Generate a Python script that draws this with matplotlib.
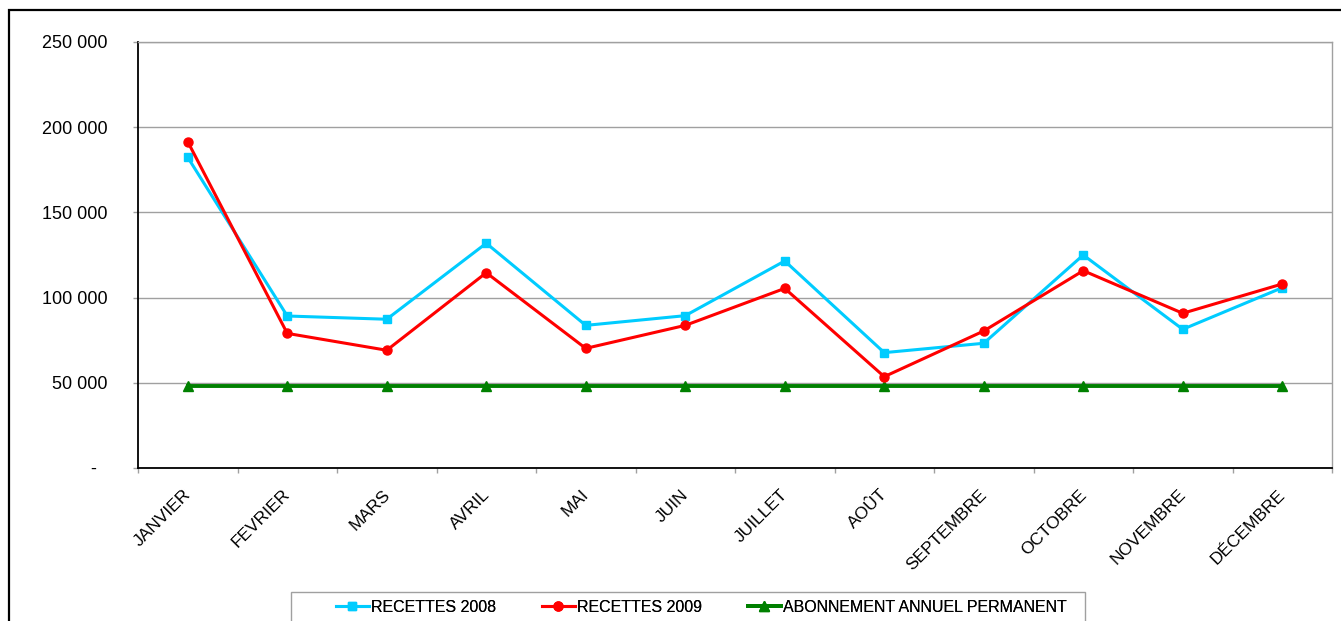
import matplotlib
matplotlib.use("Agg")
import matplotlib.pyplot as plt
from matplotlib.patches import Rectangle
from matplotlib.transforms import ScaledTranslation
from matplotlib.ticker import FixedLocator, FuncFormatter

months = ["JANVIER", "FEVRIER", "MARS", "AVRIL", "MAI", "JUIN", "JUILLET",
          "AOÛT", "SEPTEMBRE", "OCTOBRE", "NOVEMBRE", "DÉCEMBRE"]
recettes_2008 = [182300, 89200, 87300, 131900, 83700, 89400, 121500,
                 67700, 73200, 125000, 81400, 105800]
recettes_2009 = [191500, 79000, 69100, 114600, 70200, 83700, 105400,
                 53600, 80400, 115800, 90800, 108000]
abonnement = [48000] * 12
yticks = [0, 50000, 100000, 150000, 200000, 250000]

plt.rcParams['font.family'] = ['Liberation Sans', 'DejaVu Sans']

W, H = 1341, 621
fig = plt.figure(figsize=(W / 100, H / 100), dpi=100)
ax = fig.add_axes([138 / W, 1 - 468 / H, 1194 / W, 426 / H])

x = list(range(len(months)))
l1, = ax.plot(x, recettes_2008, color='#00CCFF', lw=2.2, marker='s', ms=6.0,
              label='RECETTES 2008', zorder=3)
l2, = ax.plot(x, recettes_2009, color='#FF0000', lw=2.2, marker='o', ms=6.5,
              label='RECETTES 2009', zorder=4)
l3, = ax.plot(x, abonnement, color='#008000', lw=2.8, marker='^', ms=6.5,
              label='ABONNEMENT ANNUEL PERMANENT', zorder=3)

ax.set_xlim(-0.5, len(months) - 0.5)
ax.set_ylim(0, 250000)

ax.set_yticks(yticks)
ax.yaxis.set_major_formatter(FuncFormatter(
    lambda v, p: "-  " if v == 0 else f"{int(v):,}".replace(",", " ")))
ax.tick_params(axis='y', length=3.6, width=1, color='#A0A0A0', pad=18.5,
               labelsize=13)
ax.grid(axis='y', color='#A0A0A0', lw=1, zorder=0)

ax.set_xticks(x)
ax.set_xticklabels(months, rotation=45, ha='right', va='top')
ax.xaxis.set_minor_locator(FixedLocator([i - 0.5 for i in range(len(months) + 1)]))
ax.tick_params(axis='x', which='major', length=0, pad=13.5, labelsize=12.5)
ax.tick_params(axis='x', which='minor', length=3.6, width=1, color='#A0A0A0')
for lbl in ax.get_xticklabels():
    lbl.set_transform(lbl.get_transform() + ScaledTranslation(6 / 100, 0, fig.dpi_scale_trans))

for s in ['top', 'right']:
    ax.spines[s].set_color('#A0A0A0')
    ax.spines[s].set_linewidth(1)
for s in ['left', 'bottom']:
    ax.spines[s].set_color('black')
    ax.spines[s].set_linewidth(1.3)

# outer chart frame
fig.patches.append(Rectangle((9 / W, -0.1), 2, 1 - 10 / H + 0.1,
                             transform=fig.transFigure, fill=False,
                             ec='black', lw=1.6))
# legend frame
fig.patches.append(Rectangle((291 / W, -0.1), (1085 - 291) / W, 1 - 592 / H + 0.1,
                             transform=fig.transFigure, fill=False,
                             ec='#A0A0A0', lw=1))

for handle, xpix in zip([l1, l2, l3], [336, 542, 748]):
    leg = fig.legend(handles=[handle], loc='center left',
                     bbox_to_anchor=(xpix / W, 1 - 607 / H),
                     frameon=False, fontsize=11.5, borderpad=0, borderaxespad=0,
                     handlelength=2.05, handletextpad=0.15)
    fig.add_artist(leg)

fig.savefig("out.png", dpi=100)
